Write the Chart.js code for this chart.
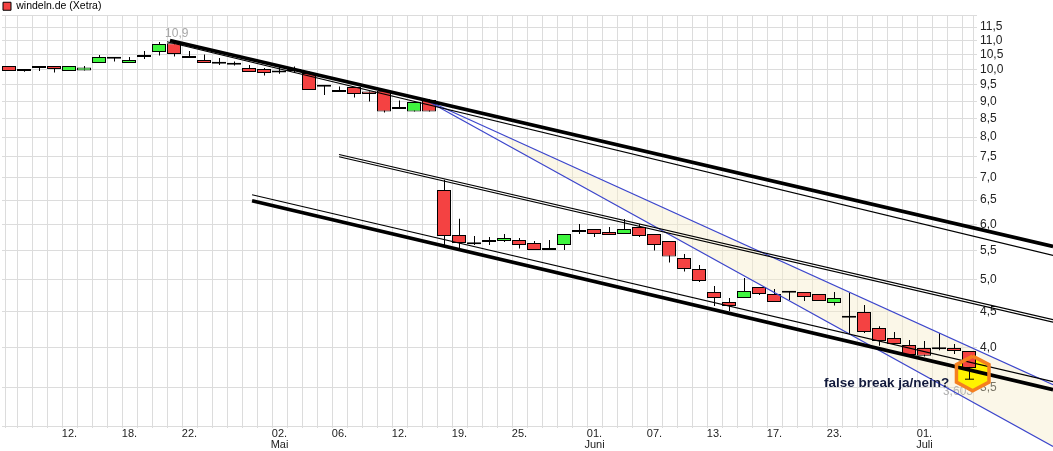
<!DOCTYPE html>
<html>
<head>
<meta charset="utf-8">
<title>windeln.de (Xetra)</title>
<script src="https://cdn.jsdelivr.net/npm/chart.js@4/dist/chart.umd.min.js"></script>
<style>
    html, body { margin: 0; padding: 0; background: #fff; }
    canvas { display: block; }
</style>
</head>
<body>
<canvas id="chart" width="1053" height="451"></canvas>
<script>
// Kursdaten
const seriesName = 'windeln.de (Xetra)';
const opens = [10.113, 9.98, 10.113, 10.113, 9.947, 9.967, 10.213, 10.383, 10.213, 10.417, 10.59, 10.9, 10.451, 10.315, 10.216, 10.176, 10.046, 10.013, 9.925, 10.013, 9.882, 9.468, 9.344, 9.437, 9.301, 9.323, 8.776, 8.707, 9.041, 6.721, 5.795, 5.631, 5.7, 5.681, 5.7, 5.644, 5.552, 5.607, 5.852, 5.91, 5.852, 5.814, 5.949, 5.814, 5.681, 5.372, 5.181, 4.803, 4.647, 4.708, 4.882, 4.771, 4.803, 4.803, 4.771, 4.632, 4.421, 4.496, 4.265, 4.127, 4.033, 3.993, 3.984, 3.993, 3.954];
const highs = [10.113, 10.013, 10.113, 10.113, 10.113, 10.113, 10.486, 10.417, 10.417, 10.625, 10.945, 10.9, 10.625, 10.507, 10.383, 10.267, 10.146, 10.046, 10.099, 10.099, 9.934, 9.477, 9.456, 9.437, 9.301, 9.323, 9.029, 8.999, 9.071, 6.953, 6.115, 5.776, 5.757, 5.814, 5.738, 5.681, 5.7, 5.814, 6.009, 5.91, 5.949, 6.108, 6.009, 5.814, 5.681, 5.443, 5.25, 4.898, 4.708, 5.029, 4.882, 4.85, 4.803, 4.803, 4.771, 4.803, 4.786, 4.601, 4.288, 4.209, 4.1, 4.086, 4.195, 4.046, 3.954];
const lows = [9.947, 9.925, 9.947, 9.902, 9.947, 9.967, 10.213, 10.267, 10.213, 10.349, 10.472, 10.438, 10.383, 10.213, 10.146, 10.133, 9.915, 9.804, 9.859, 9.882, 9.344, 9.191, 9.283, 9.119, 8.999, 8.678, 8.776, 8.707, 8.707, 5.581, 5.521, 5.607, 5.607, 5.663, 5.544, 5.515, 5.515, 5.515, 5.814, 5.757, 5.795, 5.814, 5.757, 5.508, 5.294, 5.14, 4.963, 4.586, 4.511, 4.708, 4.755, 4.647, 4.678, 4.662, 4.662, 4.595, 4.172, 4.195, 4.024, 4.046, 3.884, 3.884, 3.962, 3.915, 3.603];
const closes = [9.947, 9.947, 10.046, 10.013, 10.113, 10.066, 10.417, 10.359, 10.315, 10.486, 10.873, 10.52, 10.383, 10.213, 10.19, 10.156, 9.915, 9.882, 9.902, 9.947, 9.344, 9.446, 9.283, 9.222, 9.222, 8.707, 8.834, 8.981, 8.707, 5.776, 5.644, 5.62, 5.663, 5.738, 5.607, 5.515, 5.515, 5.814, 5.891, 5.814, 5.795, 5.91, 5.776, 5.607, 5.4, 5.181, 4.98, 4.708, 4.586, 4.818, 4.771, 4.647, 4.791, 4.724, 4.662, 4.708, 4.413, 4.209, 4.086, 4.046, 3.902, 3.893, 3.976, 3.954, 3.739];

const xTickPositions = [4, 8, 12, 18, 22, 26, 30, 34, 39, 43, 47, 51, 55, 61];
const xTickLabels = ['12.', '18.', '22.', '02.', '06.', '12.', '19.', '25.', '01.', '07.', '13.', '17.', '23.', '01.'];
const xTickMonths = ['', '', '', 'Mai', '', '', '', '', 'Juni', '', '', '', '', 'Juli'];
const yTickValues = [3.5, 4, 4.5, 5, 5.5, 6, 6.5, 7, 7.5, 8, 8.5, 9, 9.5, 10, 10.5, 11, 11.5];
const yTickLabels = ['3,5', '4,0', '4,5', '5,0', '5,5', '6,0', '6,5', '7,0', '7,5', '8,0', '8,5', '9,0', '9,5', '10,0', '10,5', '11,0', '11,5'];

// Trendlinien
const trendStartX = [10.7, 10.5, 21.97, 21.97, 16.17, 16.17, 27.63, 27.63];
const trendStartY = [11.0, 10.956, 7.555, 7.5, 6.617, 6.488, 9.071, 9.071];
const trendEndX = [69.57, 69.57, 69.57, 69.57, 69.57, 69.57, 69.57, 69.57];
const trendEndY = [5.581, 5.418, 4.384, 4.347, 3.574, 3.481, 3.538, 2.887];
const trendColors = ['#000', '#000', '#000', '#000', '#000', '#000', '#3c46cc', '#3c46cc'];
const trendWidths = [3.6, 1.2, 1.2, 1.2, 1.2, 3.6, 1.2, 1.2];

// Kanal und Sechseck
const channelX = [32.9, 69.57, 69.57, 33.5];
const channelY = [8.059, 3.538, 2.887, 7.728];
const hexX = [64.21, 65.3, 65.3, 64.21, 63.13, 63.13, 64.21];
const hexY = [3.887, 3.78, 3.568, 3.469, 3.568, 3.78, 3.887];
const lowCapX = [63.7, 64.3];
const lowCapY = [3.603, 3.603];

const RED = '#f44242';
const GREEN = '#3ff53f';

const candleIndex = opens.map((_, i) => i);

function points(xs, ys) {
    return xs.map((x, i) => ({ x: x, y: ys[i] }));
}

function polygon(chart, xs, ys, color) {
    const { x, y } = chart.scales;
    const ctx = chart.ctx;
    ctx.save();
    ctx.beginPath();
    xs.forEach((v, i) => ctx.lineTo(x.getPixelForValue(v), y.getPixelForValue(ys[i])));
    ctx.closePath();
    ctx.fillStyle = color;
    ctx.fill();
    ctx.restore();
}

function note(chart, text, xv, yv, font, color) {
    const ctx = chart.ctx;
    ctx.save();
    ctx.font = font;
    ctx.fillStyle = color;
    ctx.textBaseline = 'middle';
    ctx.fillText(text, chart.scales.x.getPixelForValue(xv), chart.scales.y.getPixelForValue(yv));
    ctx.restore();
}

const channelPlugin = {
    id: 'channel',
    // Legende kleiner als Chart.js sie sonst einplant
    beforeLayout(chart) {
        const legend = chart.legend;
        const fit = legend.fit;
        legend.fit = function () {
            fit.call(this);
            this.height = 15;
        };
    },
    beforeDatasetsDraw(chart) {
        polygon(chart, channelX, channelY, 'rgba(245, 235, 200, 0.42)');
        note(chart, '3,603', 62.23, 3.461, '12px "Liberation Sans"', '#b4b4b4');
        polygon(chart, hexX, hexY, '#fff200');
    },
    afterDatasetsDraw(chart) {
        note(chart, '10,9', 10.37, 11.25, '12px "Liberation Sans"', '#a8a8a8');
        note(chart, 'false break ja/nein?', 54.3, 3.55, 'bold 13.5px "Liberation Sans"', '#121a3c');
    }
};

const trendDatasets = trendStartX.map((x0, i) => ({
    type: 'line',
    data: points([x0, trendEndX[i]], [trendStartY[i], trendEndY[i]]),
    borderColor: trendColors[i],
    borderWidth: trendWidths[i],
    pointRadius: 0,
    fill: false,
    clip: false,
    order: 2
}));

const ctx = document.getElementById('chart').getContext('2d');

new Chart(ctx, {
    type: 'bar',
    data: {
        datasets: [
            {
                type: 'line',
                data: points(hexX, hexY),
                borderColor: '#f5801f',
                borderWidth: 3.5,
                borderJoinStyle: 'miter',
                pointRadius: 0,
                fill: false,
                clip: false,
                order: 0
            },
            {
                type: 'line',
                data: points(lowCapX, lowCapY),
                borderColor: '#000',
                borderWidth: 1,
                pointRadius: 0,
                fill: false,
                clip: false,
                order: 1
            },
            ...trendDatasets,
            {
                label: seriesName,
                // halber Pixel nach links, damit der 14px-Körper scharf bleibt
                data: candleIndex.map(i => ({ x: i - 0.033, y: [opens[i], closes[i]] })),
                backgroundColor: candleIndex.map(i => closes[i] > opens[i] ? GREEN : RED),
                borderColor: '#000',
                borderWidth: 1,
                borderSkipped: false,
                inflateAmount: 0,
                barThickness: 14,
                minBarLength: 2,
                grouped: false,
                order: 3
            },
            {
                data: candleIndex.map(i => ({ x: i, y: [lows[i], highs[i]] })),
                backgroundColor: '#000',
                borderWidth: 0,
                inflateAmount: 0,
                barThickness: 1,
                grouped: false,
                order: 4
            }
        ]
    },
    plugins: [channelPlugin],
    options: {
        responsive: false,
        animation: false,
        devicePixelRatio: 1,
        font: { family: '"Liberation Sans"' },
        layout: { padding: { left: 2 } },
        plugins: {
            tooltip: { enabled: false },
            legend: {
                position: 'top',
                align: 'start',
                labels: {
                    boxWidth: 8,
                    boxHeight: 8,
                    padding: 1,
                    color: '#222',
                    font: { family: '"Liberation Sans"', size: 10.5 },
                    generateLabels: () => [{
                        text: seriesName,
                        fillStyle: RED,
                        strokeStyle: '#000',
                        lineWidth: 1,
                        datasetIndex: 10
                    }]
                }
            }
        },
        scales: {
            x: {
                type: 'linear',
                min: -0.5,
                max: 64.5,
                bounds: 'data',
                offset: false,
                afterBuildTicks: axis => {
                    axis.ticks = [-0.5, ...candleIndex, 64.5].map(v => ({ value: v }));
                },
                afterFit: axis => { axis.height = 25; },
                grid: { color: '#dcdcdc', lineWidth: 1, tickLength: 2, tickColor: '#dcdcdc' },
                border: { display: false },
                ticks: {
                    autoSkip: false,
                    maxRotation: 0,
                    padding: 0,
                    color: '#222',
                    font: { family: '"Liberation Sans"', size: 11, lineHeight: 1.05 },
                    callback: value => {
                        const n = xTickPositions.indexOf(value);
                        if (n < 0) return '';
                        return xTickMonths[n] ? [xTickLabels[n], xTickMonths[n]] : xTickLabels[n];
                    }
                }
            },
            y: {
                type: 'logarithmic',
                position: 'right',
                min: 3.088,
                max: 11.964,
                bounds: 'data',
                afterBuildTicks: axis => {
                    axis.ticks = [3.088, ...yTickValues, 11.964].map(v => ({ value: v }));
                },
                afterFit: axis => { axis.width = 76; },
                grid: { color: '#dcdcdc', lineWidth: 1, drawTicks: false },
                border: { display: false },
                ticks: {
                    autoSkip: false,
                    padding: 3,
                    color: '#222',
                    font: { family: '"Liberation Sans"', size: 12 },
                    callback: value => {
                        const n = yTickValues.indexOf(value);
                        return n < 0 ? '' : yTickLabels[n];
                    }
                }
            }
        }
    }
});
</script>
</body>
</html>
